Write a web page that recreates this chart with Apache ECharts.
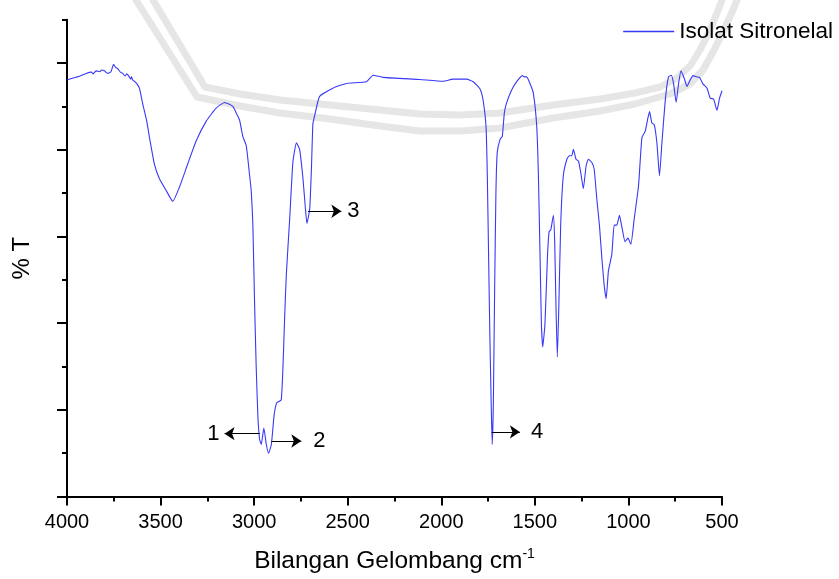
<!DOCTYPE html>
<html>
<head>
<meta charset="utf-8">
<title>FTIR Isolat Sitronelal</title>
<script src="https://cdn.jsdelivr.net/npm/echarts@6/dist/echarts.min.js"></script>
<style>
  html, body { margin: 0; padding: 0; background: #fff; }
  #main { width: 839px; height: 579px; }
</style>
</head>
<body>
<div id="main"></div>
<script>
// spectrum: wave number (cm-1) and %T
var wavenumber = [4000,3961,3930,3898,3870,3860,3845,3825,3815,3800,
  3783,3765,3751,3740,3729,3715,3702,3690,3680,3667,
  3660,3655,3649,3640,3628,3613,3595,3574,3556,3533,
  3506,3470,3435,3399,3355,3310,3256,3203,3158,3114,
  3087,3078,3060,3042,3024,3015,3007,2998,2989,2980,
  2971,2962,2948,2935,2923,2908,2894,2881,2869,2855,
  2846,2837,2828,2810,2793,2774,2757,2739,2726,2718,
  2703,2694,2686,2676,2650,2579,2507,2400,2364,2311,
  2115,1990,1936,1865,1829,1793,1776,1761,1754,1747,
  1740,1733,1728,1722,1715,1708,1701,1686,1674,1663,
  1651,1624,1597,1567,1555,1544,1526,1508,1490,1481,
  1472,1465,1458,1446,1433,1424,1415,1401,1394,1387,
  1380,1372,1362,1348,1329,1316,1303,1294,1280,1267,
  1255,1241,1226,1214,1196,1183,1169,1155,1142,1130,
  1119,1107,1089,1076,1062,1048,1035,1018,1003,987,
  969,946,928,910,898,887,875,862,848,834,
  821,803,786,771,759,745,732,719,702,687,
  670,655,634,620,602,580,563,545,527,513,
  500];
var transmittance = [96.1,96.6,97.0,97.6,97.9,97.5,98.2,98.0,98.4,98.2,
  97.6,98.0,99.7,99.0,98.7,97.9,97.6,97.0,97.5,96.8,
  96.3,96.8,96.1,95.8,95.3,94.2,90.5,86.6,82.0,76.7,
  73.3,70.6,68.1,71.4,76.7,82.0,86.6,89.6,90.9,90.0,
  87.7,86.9,83.0,80.9,74.0,70.2,63.0,45.2,29.9,18.5,
  13.2,12.0,15.8,12.0,10.0,12.0,18.5,21.5,21.9,22.3,
  29.9,41.3,51.2,64.1,77.1,81.6,80.1,73.3,66.4,63.0,
  66.4,75.5,86.0,88.0,92.3,94.2,95.3,95.7,97.2,96.7,
  96.2,95.8,96.3,96.3,95.7,94.0,91.3,85.4,74.0,55.0,
  36.0,20.8,12.0,20.8,47.4,70.2,79.4,82.4,83.1,88.5,
  90.8,93.8,95.7,97.1,96.8,96.8,95.3,93.0,85.4,74.0,
  55.0,39.8,34.5,39.8,55.0,61.1,61.5,64.9,58.8,43.6,
  32.2,43.6,62.6,74.0,77.8,78.6,78.6,80.1,77.8,77.4,
  74.8,71.0,76.3,77.8,77.1,75.5,68.7,62.6,55.0,48.9,
  45.6,52.0,55.8,62.6,62.6,64.9,62.2,58.8,59.6,58.2,
  64.1,71.7,82.8,84.3,86.9,88.8,86.2,85.8,81.6,74.0,
  81.6,91.5,96.8,97.2,95.3,90.9,95.3,98.2,96.5,94.6,
  96.1,97.1,96.8,96.7,95.2,94.2,91.9,91.7,89.1,91.9,
  93.6];

// tick positions
var xTicks = [4000, 3500, 3000, 2500, 2000, 1500, 1000, 500];
var yMajorTicks = [0, 20, 40, 60, 80, 100];
var yMinorTicks = [10, 30, 50, 70, 90, 110];

// numbered peak markers: arrow from the peak to the label
var markNames = ['1', '2', '3', '4'];
var markFrom = [2970, 2908, 2712, 1731];
var markTo = [3158, 2748, 2534, 1580];
var markLevel = [14.5, 12.8, 65.8, 14.9];

var seriesName = 'Isolat Sitronelal';
var font = 'Liberation Sans, Arial, sans-serif';
// gap between arrow head and its number
var labelGap = {'1': 5, '2': 12, '3': 6, '4': 11};

var points = [];
for (var i = 0; i < wavenumber.length; i++) {
  points.push([wavenumber[i], transmittance[i]]);
}

var arrows = [];
for (var k = 0; k < markNames.length; k++) {
  arrows.push([
    {coord: [markFrom[k], markLevel[k]]},
    {coord: [markTo[k], markLevel[k]], name: markNames[k], label: {distance: labelGap[markNames[k]]}}
  ]);
}

// light grey logo watermark behind the plot (decoration only)
var wmStyle = {stroke: '#e6e6e6', lineWidth: 7, fill: null, lineCap: 'round', lineJoin: 'round'};
function band(pts) {
  return {type: 'polyline', z: 0, silent: true, shape: {points: pts}, style: wmStyle};
}

var chart = echarts.init(document.getElementById('main'), null, {renderer: 'canvas'});

var option = {
  animation: false,
  backgroundColor: '#fff',
  grid: {left: 67, right: 117, top: 19.7, bottom: 77},
  graphic: [
    band([[153,0],[205,87],[240,94],[280,100],[330,105],[380,110],[420,114],[460,115],[500,113],[553,105],
      [600,99],[635,93],[660,87],[677,78],[690,66],[700,50],[710,30],[719,8],[722,0]]),
    band([[136,0],[197,97],[240,106],[280,113],[330,119],[380,126],[420,131],[460,131],[500,128],[553,118],
      [600,111],[635,104],[670,94],[690,84],[703,70],[713,52],[724,30],[733,10],[737,0]])
  ],
  legend: {
    data: [seriesName],
    right: 1,
    top: 15,
    icon: 'rect',
    itemWidth: 51,
    itemHeight: 1.5,
    itemGap: 5,
    textStyle: {fontFamily: font, fontSize: 22.5, color: '#000'}
  },
  xAxis: {
    type: 'value',
    inverse: true,
    min: 500,
    max: 4000,
    interval: 500,
    name: 'Bilangan Gelombang cm{sup|-1}',
    nameLocation: 'middle',
    nameGap: 51,
    nameTextStyle: {
      fontFamily: font, fontSize: 24.5, color: '#000',
      rich: {sup: {fontFamily: font, fontSize: 14, color: '#000', verticalAlign: 'bottom', padding: [0, 0, 14, 0]}}
    },
    axisLine: {show: true, onZero: false, lineStyle: {color: '#000', width: 2}},
    axisTick: {show: true, inside: false, length: 9, lineStyle: {color: '#000', width: 2}},
    minorTick: {show: true, splitNumber: 2, length: 5, lineStyle: {color: '#000', width: 2}},
    axisLabel: {
      fontFamily: font, fontSize: 20, color: '#000', margin: 16,
      customValues: xTicks,
      formatter: function (v) { return String(v); }
    },
    splitLine: {show: false}
  },
  yAxis: [
    {
      type: 'value',
      min: 0,
      max: 110,
      interval: 20,
      name: '% T',
      nameLocation: 'middle',
      nameGap: 33,
      nameTextStyle: {fontFamily: font, fontSize: 24, color: '#000'},
      axisLine: {show: true, onZero: false, lineStyle: {color: '#000', width: 2}},
      axisTick: {show: true, inside: false, length: 10, customValues: yMajorTicks, lineStyle: {color: '#000', width: 2}},
      axisLabel: {show: false},
      splitLine: {show: false}
    },
    {
      type: 'value',
      position: 'left',
      min: 0,
      max: 110,
      interval: 10,
      axisLine: {show: false},
      axisTick: {show: true, inside: false, length: 5, customValues: yMinorTicks, lineStyle: {color: '#000', width: 2}},
      axisLabel: {show: false},
      splitLine: {show: false}
    }
  ],
  series: [
    {
      name: seriesName,
      type: 'line',
      data: points,
      yAxisIndex: 0,
      showSymbol: false,
      symbol: 'none',
      smooth: 0.15,
      z: 3,
      lineStyle: {color: '#3838f8', width: 1.1},
      itemStyle: {color: '#3838f8'},
      markLine: {
        silent: true,
        symbol: ['none', 'arrow'],
        symbolSize: 10,
        lineStyle: {color: '#000', width: 1, type: 'solid'},
        itemStyle: {color: '#000'},
        label: {
          show: true,
          position: 'end',
          distance: 5,
          formatter: '{b}',
          fontFamily: font,
          fontSize: 22,
          color: '#000',
          padding: [7, 0, 0, 0]
        },
        data: arrows
      }
    }
  ]
};

chart.setOption(option);
</script>
</body>
</html>
